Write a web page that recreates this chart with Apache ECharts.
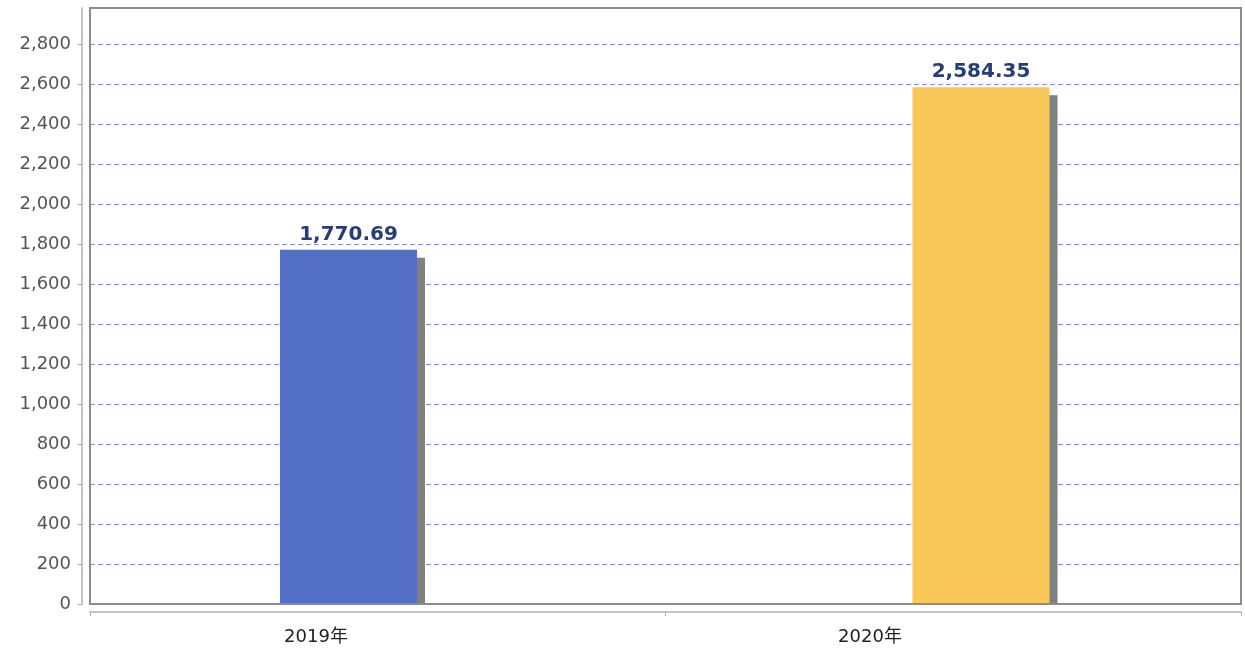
<!DOCTYPE html>
<html>
<head>
<meta charset="utf-8">
<script src="https://cdn.jsdelivr.net/npm/echarts@6/dist/echarts.min.js"></script>
<style>
  html, body { margin: 0; padding: 0; background: #fff; }
  #main { width: 1245px; height: 649px; }
</style>
</head>
<body>
<div id="main"></div>
<script>
var years = ['2019年', '2020年'];
var amounts = [1770.69, 2584.35];
var barColors = ['#5470c6', '#fac858'];
var yMax = 2980;
var yStep = 200;

var chart = echarts.init(document.getElementById('main'));

// shadow is drawn from its own grid, moved 8px right and 8px down
var shadowShift = yMax / 596 * 8;

var barData = [];
for (var i = 0; i < amounts.length; i++) {
    barData.push({ value: amounts[i], itemStyle: { color: barColors[i] } });
}

var hiddenCat = {
    type: 'category', data: years, boundaryGap: false,
    axisLine: { show: false }, axisTick: { show: false }, axisLabel: { show: false }, splitLine: { show: false }
};
var hiddenVal = function (min, max, idx) {
    return {
        type: 'value', gridIndex: idx, min: min, max: max,
        axisLine: { show: false }, axisTick: { show: false }, axisLabel: { show: false }, splitLine: { show: false }
    };
};

var option = {
    animation: false,
    grid: [
        { left: 90, right: 4, top: 8, bottom: 45, show: true, borderColor: '#8c8c8c', borderWidth: 2, z: 5 },
        { left: 348.5, right: 264, top: 8, bottom: 45 },
        { left: 356.5, right: 256, top: 8, bottom: 45 },
        { left: 316, right: 375, top: 8, bottom: 45 }
    ],
    xAxis: [
        {
            type: 'category', data: years, gridIndex: 0, offset: 8,
            axisLine: { show: true, onZero: false, lineStyle: { color: '#c4c4c4', width: 2 } },
            axisTick: { show: true, length: 4, lineStyle: { color: '#aaa' } },
            axisLabel: { show: false }
        },
        Object.assign({ gridIndex: 1 }, hiddenCat),
        Object.assign({ gridIndex: 2 }, hiddenCat),
        {
            type: 'category', data: years, gridIndex: 3, boundaryGap: false,
            axisLine: { show: false }, axisTick: { show: false },
            axisLabel: { show: true, margin: 24, color: '#222', fontSize: 18, fontFamily: 'DejaVu Sans, Noto Sans CJK SC' }
        }
    ],
    yAxis: [
        {
            type: 'value', gridIndex: 0, min: 0, max: yMax, interval: yStep, offset: 8,
            axisLine: { show: true, onZero: false, lineStyle: { color: '#c4c4c4', width: 2 } },
            axisTick: { show: true, length: 4, lineStyle: { color: '#aaa' } },
            axisLabel: {
                margin: 11, color: '#555', fontSize: 18, fontFamily: 'DejaVu Sans',
                showMaxLabel: false
            },
            splitLine: { show: true, lineStyle: { color: '#8c8cff', type: [5, 3], width: 1 } }
        },
        hiddenVal(0, yMax, 1),
        hiddenVal(shadowShift, yMax + shadowShift, 2),
        hiddenVal(0, yMax, 3)
    ],
    series: [
        {
            type: 'bar', xAxisIndex: 2, yAxisIndex: 2, z: 1,
            barWidth: 137, data: amounts,
            itemStyle: { color: '#808080' },
            silent: true
        },
        {
            type: 'bar', xAxisIndex: 1, yAxisIndex: 1, z: 3,
            barWidth: 137, data: barData,
            label: {
                show: true, position: 'top', distance: 5,
                color: '#263d78', fontSize: 20, fontWeight: 'bold', fontFamily: 'DejaVu Sans',
                formatter: function (p) { return echarts.format.addCommas(p.value.toFixed(2)); }
            }
        }
    ]
};
chart.setOption(option);
</script>
</body>
</html>
